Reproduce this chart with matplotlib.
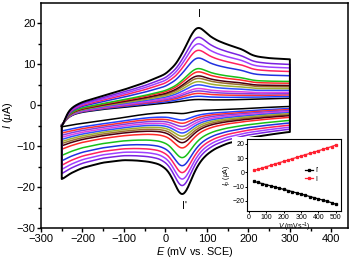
import numpy as np
import matplotlib
matplotlib.use("Agg")
import matplotlib.pyplot as plt
from matplotlib.patches import Rectangle

plt.rcParams["font.family"] = ["Liberation Sans", "DejaVu Sans"]
plt.rcParams["mathtext.fontset"] = "custom"
plt.rcParams["mathtext.rm"] = "Liberation Sans"
plt.rcParams["mathtext.it"] = "Liberation Sans:italic"

# key points of the innermost and outermost CV, anodic branch (forward scan)
E_an = [-250, -245, -235, -220, -200, -150, -100, -50, 0, 25, 45, 60, 72, 80, 90,
        105, 125, 150, 175, 190, 205, 220, 250, 300]
outer_an = [-6.0, -4.0, -1.5, -0.2, 0.8, 2.3, 3.8, 5.5, 7.6, 10.0, 13.5, 16.8, 18.8,
            19.2, 18.5, 17.0, 15.8, 14.8, 14.0, 13.4, 12.4, 11.9, 11.5, 11.2]
inner_an = [-5.2, -4.2, -3.0, -2.2, -1.7, -1.0, -0.5, 0.0, 0.5, 0.8, 1.1, 1.3, 1.4,
            1.4, 1.4, 1.3, 1.3, 1.3, 1.4, 1.4, 1.5, 1.5, 1.6, 1.7]

# cathodic branch (reverse scan)
E_ca = [300, 250, 200, 150, 120, 100, 85, 70, 58, 48, 40, 32, 20, 5, -15, -40, -70,
        -100, -150, -200, -230, -250]
outer_ca = [-6.5, -7.2, -8.0, -9.3, -10.6, -12.0, -13.6, -16.2, -19.3, -21.5, -22.2,
            -21.4, -18.5, -15.8, -14.4, -13.8, -13.5, -13.4, -14.0, -15.3, -16.7, -18.2]
inner_ca = [-0.3, -0.5, -0.8, -1.0, -1.1, -1.2, -1.3, -1.5, -1.8, -2.0, -2.1, -2.0,
            -1.9, -1.8, -1.9, -2.1, -2.5, -3.0, -3.7, -4.4, -4.9, -5.3]

# peak currents of each curve, outermost -> innermost
anodic_peak = [19.0, 16.7, 15.1, 13.5, 11.6, 9.0, 8.2, 7.2, 6.6, 5.8, 5.0, 4.1, 3.5, 2.9, 2.2, 1.4]
cathodic_peak = [-22.0, -19.9, -18.3, -16.7, -15.0, -13.0, -10.6, -9.3, -8.5, -7.7, -6.9,
                 -6.1, -5.3, -4.5, -3.7, -2.1]
curve_colors = ["#000000", "#7A22E0", "#A040FF", "#FF2060", "#2030E0", "#18C018", "#FF2828",
                "#4A0010", "#9A7030", "#A0B030", "#3050FF", "#E040E0", "#8040E0", "#FF3030",
                "#2040FF", "#000000"]

# inset: peak current vs scan rate
scan_rate = [30, 50, 75, 100, 125, 150, 175, 200, 225, 250, 275, 300, 325, 350, 375,
             400, 425, 450, 475, 500]
ipa = [1.4, 2.1, 3.0, 4.0, 4.9, 5.9, 6.8, 7.7, 8.6, 9.6, 10.5, 11.5, 12.4, 13.3, 14.2,
       15.2, 16.1, 17.1, 18.1, 19.2]
ipc = [-6.3, -7.0, -7.8, -8.6, -9.4, -10.2, -11.1, -11.9, -12.7, -13.5, -14.4, -15.2,
       -16.0, -16.9, -17.7, -18.6, -19.4, -20.3, -21.2, -22.4]


def smooth_branch(e_pts, i_pts, n=400, width=6.0):
    e = np.linspace(e_pts[0], e_pts[-1], n)
    if e_pts[0] > e_pts[-1]:
        i = np.interp(e[::-1], e_pts[::-1], i_pts[::-1])[::-1]
    else:
        i = np.interp(e, e_pts, i_pts)
    step = abs(e[1] - e[0])
    k = np.arange(-int(3 * width / step), int(3 * width / step) + 1) * step
    kern = np.exp(-0.5 * (k / width) ** 2)
    kern /= kern.sum()
    pad = len(k) // 2
    ip = np.concatenate([np.full(pad, i[0]), i, np.full(pad, i[-1])])
    return e, np.convolve(ip, kern, mode="valid")


ea, oa = smooth_branch(E_an, outer_an)
_, ia = smooth_branch(E_an, inner_an)
ec, oc = smooth_branch(E_ca, outer_ca)
_, ic = smooth_branch(E_ca, inner_ca)

fig = plt.figure(figsize=(3.52, 2.63), dpi=100)
ax = fig.add_axes([0.1165, 0.133, 0.872, 0.856])

n = len(anodic_peak)
for j in range(n - 1, -1, -1):
    fa = (anodic_peak[j] - anodic_peak[-1]) / (anodic_peak[0] - anodic_peak[-1])
    fc = (cathodic_peak[j] - cathodic_peak[-1]) / (cathodic_peak[0] - cathodic_peak[-1])
    y_an = ia + fa * (oa - ia)
    y_ca = ic + fc * (oc - ic)
    x = np.concatenate([ea, ec, ea[:1]])
    y = np.concatenate([y_an, y_ca, y_an[:1]])
    lw = 1.4 if j == 0 else 1.1
    ax.plot(x, y, color=curve_colors[j], lw=lw, solid_joinstyle="round")

ax.set_xlim(-300, 440)
ax.set_ylim(-30, 25)
ax.set_xticks([-300, -200, -100, 0, 100, 200, 300, 400])
ax.set_xticks(np.arange(-250, 440, 100), minor=True)
ax.set_yticks([-30, -20, -10, 0, 10, 20])
ax.set_yticks([-25, -15, -5, 5, 15], minor=True)
ax.tick_params(which="major", direction="out", length=3, width=1, labelsize=8, pad=1)
ax.tick_params(which="minor", direction="out", length=2, width=1)
for s in ax.spines.values():
    s.set_linewidth(1.1)
ax.set_xlabel(r"$E$ (mV vs. SCE)", fontsize=7.8, labelpad=1)
ax.set_ylabel(r"$I$ ($\mu$A)", fontsize=7.8, labelpad=1)

ax.text(83, 22.2, "I", fontsize=7.5, ha="center", va="center")
ax.text(45, -24.6, "I'", fontsize=7.5, ha="center", va="center")

# white box behind the inset
ax.add_patch(Rectangle((0.66, 0.14), 0.325, 0.34, transform=fig.transFigure,
                       facecolor="white", edgecolor="none", zorder=10))

ins = fig.add_axes([0.702, 0.198, 0.267, 0.274])
ins.plot(scan_rate, ipc, color="black", marker="s", ms=1.4, lw=0.9, label="I'")
ins.plot(scan_rate, ipa, color="#FF2030", marker="s", ms=1.4, lw=0.9, label="I")
ins.set_xlim(-10, 530)
ins.set_ylim(-27, 23.5)
ins.set_xticks([0, 100, 200, 300, 400, 500])
ins.set_yticks([-20, -10, 0, 10, 20])
ins.tick_params(direction="out", length=1.5, width=0.7, labelsize=5, pad=0.5)
for s in ins.spines.values():
    s.set_linewidth(0.8)
ins.set_xlabel(r"$V$ (mVs$^{-1}$)", fontsize=5, labelpad=0)
ins.set_ylabel(r"$I_\mathrm{p}$ ($\mu$A)", fontsize=5, labelpad=0)
ins.legend(loc="center left", bbox_to_anchor=(0.58, 0.5), fontsize=5, frameon=False,
           handlelength=1.2, handletextpad=0.3, labelspacing=0.2, borderpad=0)

fig.savefig("out.png", dpi=100)
